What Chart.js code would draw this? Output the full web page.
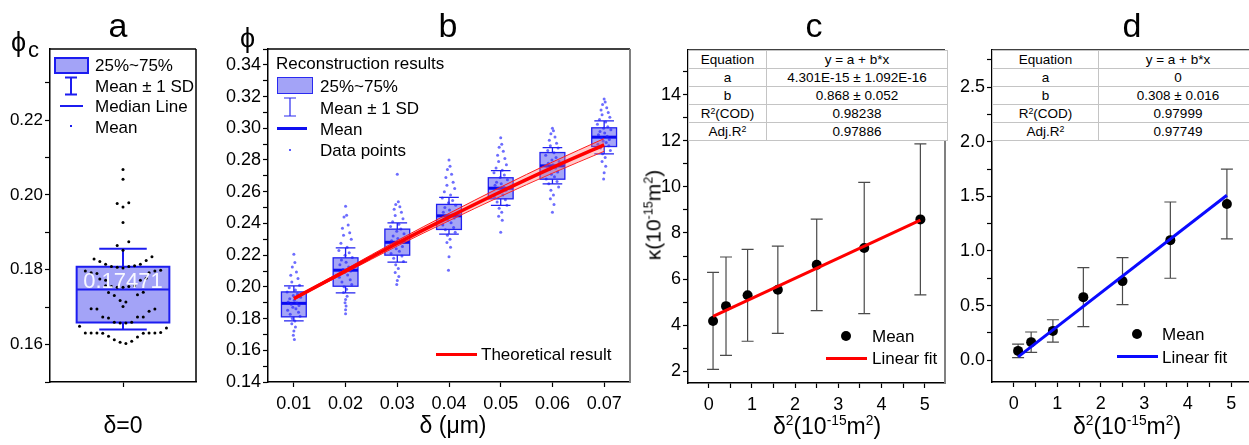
<!DOCTYPE html>
<html>
<head>
<meta charset="utf-8">
<script src="https://cdn.jsdelivr.net/npm/chart.js@4.4.1/dist/chart.umd.min.js"></script>
<style>
  body { margin: 0; background: #fff; }
  #fig { position: relative; width: 1249px; height: 445px; overflow: hidden; font-family: "Liberation Sans", Arial, sans-serif; color: #000; }
  #fig canvas { position: absolute; top: 0; }
  .lab { position: absolute; white-space: nowrap; line-height: 1; }
  .c { transform: translate(-50%, -50%); }
  .l { transform: translate(0, -50%); }
  .letter { font-size: 34px; }
  .ttl { font-size: 23px; }
  .leg { font-size: 17px; }
  .lab sup { font-size: 0.6em; vertical-align: 0.6em; line-height: 0; }
  .fit { position: absolute; border-collapse: collapse; background: #fff; font-size: 13.5px; border: 1.5px solid #333; table-layout: fixed; }
  .fit td { border: 1px solid #c4c4c4; height: 17px; padding: 0; text-align: center; line-height: 17px; white-space: nowrap; }
  .fit sup { font-size: 0.65em; vertical-align: 0.5em; line-height: 0; }
  .sw { position: absolute; box-sizing: border-box; }
</style>
</head>
<body>
<div id="fig">
  <canvas id="chartA" width="200" height="445" style="left:0px"></canvas>
  <canvas id="chartB" width="450" height="445" style="left:200px"></canvas>
  <canvas id="chartC" width="300" height="445" style="left:650px"></canvas>
  <canvas id="chartD" width="310" height="445" style="left:950px"></canvas>

  <!-- 패널 글자 -->
  <div class="lab letter c" style="left:118px; top:25px">a</div>
  <div class="lab letter c" style="left:448px; top:25px">b</div>
  <div class="lab letter c" style="left:814px; top:25px">c</div>
  <div class="lab letter c" style="left:1132px; top:25px">d</div>

  <!-- 축 제목 -->
  <div class="lab l" style="left:11px; top:42px; font-size:27px">ϕ</div>
  <div class="lab l" style="left:28px; top:50px; font-size:22px">c</div>
  <div class="lab l" style="left:240px; top:38px; font-size:27px">ϕ</div>
  <div class="lab ttl c" style="left:123px; top:425px">δ=0</div>
  <div class="lab ttl c" style="left:453px; top:425px">δ (μm)</div>
  <div class="lab ttl c" style="left:827px; top:426px">δ<sup>2</sup>(10<sup>-15</sup>m<sup>2</sup>)</div>
  <div class="lab ttl c" style="left:1127px; top:426px">δ<sup>2</sup>(10<sup>-15</sup>m<sup>2</sup>)</div>
  <div class="lab c" style="left:653px; top:215px; font-size:21px; transform:translate(-50%,-50%) rotate(-90deg)">κ(10<sup>-15</sup>m<sup>2</sup>)</div>

  <!-- 패널 a 범례 -->
  <div class="sw" style="left:54px; top:57px; width:35px; height:17px; background:#a3a3f7; border:2px solid #1c1cf0"></div>
  <div class="lab leg l" style="left:95px; top:65px">25%~75%</div>
  <svg class="sw" style="left:64px; top:76px" width="14" height="20"><path d="M1 1.5H13M7 1.5V18.5M1 18.5H13" stroke="#1c1cf0" stroke-width="2" fill="none"/></svg>
  <div class="lab leg l" style="left:95px; top:86px">Mean ± 1 SD</div>
  <div class="sw" style="left:60px; top:105px; width:23px; height:2px; background:#1c1cf0"></div>
  <div class="lab leg l" style="left:95px; top:106px">Median Line</div>
  <div class="sw" style="left:70px; top:125px; width:2px; height:2px; background:#1c1cf0"></div>
  <div class="lab leg l" style="left:95px; top:127px">Mean</div>

  <!-- 패널 b 범례 -->
  <div class="lab leg l" style="left:276px; top:63px">Reconstruction results</div>
  <div class="sw" style="left:277px; top:77px; width:36px; height:17px; background:#a3a3f7; border:1.5px solid #2a2af0"></div>
  <div class="lab leg l" style="left:320px; top:86px">25%~75%</div>
  <svg class="sw" style="left:283px; top:97px" width="14" height="20"><path d="M1 1H13M7 1V19M1 19H13" stroke="#2a2af0" stroke-width="1.2" fill="none"/></svg>
  <div class="lab leg l" style="left:320px; top:108px">Mean ± 1 SD</div>
  <div class="sw" style="left:277px; top:127px; width:30px; height:3px; background:#1010f0"></div>
  <div class="lab leg l" style="left:320px; top:129px">Mean</div>
  <div class="sw" style="left:289px; top:149px; width:2px; height:2px; background:#5a5aff"></div>
  <div class="lab leg l" style="left:320px; top:150px">Data points</div>
  <div class="sw" style="left:436px; top:353px; width:41px; height:3px; background:#ff0000"></div>
  <div class="lab leg l" style="left:481px; top:354px">Theoretical result</div>

  <!-- 패널 c 범례 -->
  <div class="sw" style="left:841px; top:331px; width:10px; height:10px; border-radius:50%; background:#000"></div>
  <div class="lab leg l" style="left:872px; top:336px">Mean</div>
  <div class="sw" style="left:826px; top:357px; width:41px; height:3px; background:#ff0000"></div>
  <div class="lab leg l" style="left:872px; top:358px">Linear fit</div>

  <!-- 패널 d 범례 -->
  <div class="sw" style="left:1132px; top:329px; width:10px; height:10px; border-radius:50%; background:#000"></div>
  <div class="lab leg l" style="left:1162px; top:334px">Mean</div>
  <div class="sw" style="left:1117px; top:355px; width:41px; height:3px; background:#0a0aff"></div>
  <div class="lab leg l" style="left:1162px; top:357px">Linear fit</div>

  <!-- 피팅 결과 표 -->
  <table class="fit" style="left:688px; top:50px; width:260px">
    <tr><td style="width:77px">Equation</td><td>y = a + b*x</td></tr>
    <tr><td>a</td><td>4.301E-15 ± 1.092E-16</td></tr>
    <tr><td>b</td><td>0.868 ± 0.052</td></tr>
    <tr><td>R<sup>2</sup>(COD)</td><td>0.98238</td></tr>
    <tr><td>Adj.R<sup>2</sup></td><td>0.97886</td></tr>
  </table>
  <table class="fit" style="left:992px; top:50px; width:266px">
    <tr><td style="width:105px">Equation</td><td>y = a + b*x</td></tr>
    <tr><td>a</td><td>0</td></tr>
    <tr><td>b</td><td>0.308 ± 0.016</td></tr>
    <tr><td>R<sup>2</sup>(COD)</td><td>0.97999</td></tr>
    <tr><td>Adj.R<sup>2</sup></td><td>0.97749</td></tr>
  </table>
</div>

<script>
// ---- 패널 a 데이터 (δ=0) ----
const aQ1 = 0.1659, aQ3 = 0.1808, aMedian = 0.17471, aSdLow = 0.1640, aSdHigh = 0.1856;
const aDotCol = [0, 0, -1, 1, 0, 0, 1, -1, 0,
  -5, -4, -3, -2, -1, 0, 1, 2, 3, 4, 5,
  -6.5, -5.5, -4.5, 4.5, 5.5, 6.5,
  -4, -3, 3, 4,
  -3, -2, -1, 0, 1, 2,
  -2.5, -1.5, 2.5, 3.5,
  -0.5, 0.5, 0,
  -5.5, -4.5, 4.5, 5.5,
  -3.5, -2.5, 2.5, 3.5,
  -1.5, -0.5, 0.5, 1.5,
  -7.5, 7.5,
  -6.5, -5.5, -4.5, -3.5, 3.5, 4.5, 5.5, 6.5,
  -2.5, 2.5,
  -1.5, -0.5, 0.5, 1.5];
const aDotVal = [0.2068, 0.2042, 0.1977, 0.1979, 0.1968, 0.1926, 0.1875, 0.1865, 0.1852,
  0.1829, 0.1822, 0.1815, 0.1809, 0.1807, 0.1805, 0.1809, 0.1811, 0.1815, 0.1825, 0.1835,
  0.1797, 0.1792, 0.1790, 0.1792, 0.1797, 0.1799,
  0.1775, 0.1772, 0.1772, 0.1777,
  0.1757, 0.1755, 0.1753, 0.1753, 0.1755, 0.1757,
  0.1739, 0.1731, 0.1733, 0.1740,
  0.1718, 0.1714, 0.1702,
  0.1696, 0.1695, 0.1689, 0.1695,
  0.1674, 0.1671, 0.1674, 0.1674,
  0.1660, 0.1658, 0.1658, 0.1660,
  0.1649, 0.1644,
  0.1631, 0.1631, 0.1631, 0.1630, 0.1630, 0.1631, 0.1631, 0.1632,
  0.1622, 0.1620,
  0.1613, 0.1606, 0.1603, 0.1609];
const aYTicks = [0.15, 0.16, 0.17, 0.18, 0.19, 0.20, 0.21, 0.22, 0.23];
const aYLabels = ['', '0.16', '', '0.18', '', '0.20', '', '0.22', ''];
const aXTicks = [0];
const aXLabels = [''];

// ---- 패널 b 데이터 ----
const bX = [0.01, 0.02, 0.03, 0.04, 0.05, 0.06, 0.07];
const bQ1 = [0.1811, 0.2004, 0.2200, 0.2362, 0.2555, 0.2679, 0.2885];
const bQ3 = [0.1968, 0.2183, 0.2364, 0.2520, 0.2688, 0.2847, 0.3003];
const bMean = [0.1896, 0.2105, 0.2281, 0.2448, 0.2622, 0.2763, 0.2944];
const bSdLow = [0.1785, 0.1962, 0.2156, 0.2332, 0.2514, 0.2650, 0.2838];
const bSdHigh = [0.2006, 0.2246, 0.2404, 0.2564, 0.2733, 0.2878, 0.3047];
const bTheory = [0.1926, 0.2100, 0.2275, 0.2440, 0.2600, 0.2752, 0.2895];
const bTheoryHigh = [0.1931, 0.2111, 0.2292, 0.2463, 0.2629, 0.2787, 0.2935];
const bTheoryLow = [0.1921, 0.2089, 0.2258, 0.2417, 0.2571, 0.2717, 0.2855];
const bPts1 = [0.2206, 0.2153, 0.2126, 0.2094, 0.2073, 0.2052, 0.2031, 0.2010, 0.1995, 0.1980, 0.1968, 0.1955, 0.1945, 0.1935, 0.1925, 0.1915, 0.1905, 0.1898, 0.1890, 0.1882, 0.1872, 0.1862, 0.1852, 0.1840, 0.1828, 0.1815, 0.1800, 0.1785, 0.1768, 0.1747, 0.1722, 0.1695, 0.1668];
const bPts2 = [0.2508, 0.2452, 0.2440, 0.2390, 0.2370, 0.2342, 0.2325, 0.2300, 0.2275, 0.2250, 0.2230, 0.2215, 0.2200, 0.2185, 0.2170, 0.2155, 0.2140, 0.2125, 0.2110, 0.2100, 0.2090, 0.2075, 0.2060, 0.2045, 0.2030, 0.2015, 0.2000, 0.1985, 0.1965, 0.1940, 0.1920, 0.1900, 0.1880, 0.1855, 0.1830];
const bPts3 = [0.2710, 0.2537, 0.2520, 0.2505, 0.2490, 0.2470, 0.2450, 0.2430, 0.2410, 0.2395, 0.2380, 0.2365, 0.2350, 0.2335, 0.2320, 0.2305, 0.2290, 0.2280, 0.2270, 0.2255, 0.2240, 0.2225, 0.2210, 0.2195, 0.2180, 0.2160, 0.2140, 0.2115, 0.2090, 0.2065, 0.2040, 0.2015];
const bPts4 = [0.2800, 0.2760, 0.2740, 0.2710, 0.2690, 0.2660, 0.2640, 0.2620, 0.2600, 0.2580, 0.2560, 0.2545, 0.2530, 0.2515, 0.2500, 0.2485, 0.2470, 0.2455, 0.2445, 0.2435, 0.2420, 0.2405, 0.2390, 0.2375, 0.2360, 0.2345, 0.2325, 0.2300, 0.2280, 0.2250, 0.2190, 0.2105];
const bPts5 = [0.2940, 0.2900, 0.2880, 0.2855, 0.2830, 0.2810, 0.2790, 0.2770, 0.2750, 0.2735, 0.2720, 0.2705, 0.2690, 0.2675, 0.2660, 0.2650, 0.2640, 0.2630, 0.2620, 0.2610, 0.2595, 0.2580, 0.2565, 0.2550, 0.2535, 0.2515, 0.2495, 0.2470, 0.2445, 0.2420, 0.2345];
const bPts6 = [0.3000, 0.2985, 0.2965, 0.2945, 0.2925, 0.2905, 0.2890, 0.2875, 0.2860, 0.2845, 0.2830, 0.2815, 0.2800, 0.2790, 0.2780, 0.2770, 0.2760, 0.2750, 0.2740, 0.2725, 0.2710, 0.2695, 0.2680, 0.2665, 0.2650, 0.2630, 0.2610, 0.2580, 0.2555, 0.2520, 0.2470];
const bPts7 = [0.3185, 0.3165, 0.3150, 0.3130, 0.3115, 0.3100, 0.3085, 0.3070, 0.3055, 0.3040, 0.3025, 0.3010, 0.3000, 0.2990, 0.2980, 0.2970, 0.2960, 0.2950, 0.2940, 0.2930, 0.2920, 0.2910, 0.2900, 0.2890, 0.2875, 0.2860, 0.2840, 0.2815, 0.2790, 0.2760, 0.2720, 0.2680];
// 점 가로 흩어짐 (μm)
const bJitter = [0, 0.0002, -0.0003, 0.0005, -0.0006, 0.0008, -0.0004, 0.0011, -0.0009, 0.0003, -0.0013, 0.0007, -0.0001, 0.0013, -0.0008, 0.0001, -0.0011, 0.0006, -0.0005, 0.0010, -0.0002, 0.0004, -0.0012, 0.0009, -0.0007, 0.0012, -0.0003, 0.0002, -0.0004, 0.0003, 0, -0.0001, 0.0001, 0, 0];
const bYTicks = [0.14, 0.15, 0.16, 0.17, 0.18, 0.19, 0.20, 0.21, 0.22, 0.23, 0.24, 0.25, 0.26, 0.27, 0.28, 0.29, 0.30, 0.31, 0.32, 0.33, 0.34, 0.35];
const bYLabels = ['0.14', '', '0.16', '', '0.18', '', '0.20', '', '0.22', '', '0.24', '', '0.26', '', '0.28', '', '0.30', '', '0.32', '', '0.34', ''];
const bXTicks = [0.01, 0.02, 0.03, 0.04, 0.05, 0.06, 0.07];
const bXLabels = ['0.01', '0.02', '0.03', '0.04', '0.05', '0.06', '0.07'];

// ---- 패널 c 데이터 ----
const cX = [0.1, 0.4, 0.9, 1.6, 2.5, 3.6, 4.9];
const cMean = [4.19, 4.83, 5.30, 5.54, 6.62, 7.35, 8.59];
const cSd = [2.10, 2.13, 1.99, 1.89, 1.98, 2.84, 3.27];
const cFitX = [0.1, 4.9];
const cFitY = [4.39, 8.56];
const cYTicks = [2, 3, 4, 5, 6, 7, 8, 9, 10, 11, 12, 13, 14, 15];
const cYLabels = ['2', '', '4', '', '6', '', '8', '', '10', '', '12', '', '14', ''];
const cXTicks = [0, 0.5, 1, 1.5, 2, 2.5, 3, 3.5, 4, 4.5, 5];
const cXLabels = ['0', '', '1', '', '2', '', '3', '', '4', '', '5'];

// ---- 패널 d 데이터 ----
const dX = [0.1, 0.4, 0.9, 1.6, 2.5, 3.6, 4.9];
const dMean = [0.085, 0.165, 0.268, 0.577, 0.724, 1.099, 1.430];
const dSd = [0.062, 0.093, 0.102, 0.270, 0.215, 0.349, 0.320];
const dFitX = [0.1, 4.9];
const dFitY = [0.03, 1.51];
const dYTicks = [0, 0.25, 0.5, 0.75, 1, 1.25, 1.5, 1.75, 2, 2.25, 2.5, 2.75];
const dYLabels = ['0.0', '', '0.5', '', '1.0', '', '1.5', '', '2.0', '', '2.5', ''];
const dXTicks = cXTicks;
const dXLabels = cXLabels;

Chart.defaults.font.family = '"Liberation Sans", Arial, sans-serif';
Chart.defaults.color = '#000';
Chart.defaults.animation = false;
Chart.defaults.plugins.legend.display = false;
Chart.defaults.plugins.tooltip.enabled = false;

// 축 설정 (눈금 위치 고정, 축 크기 고정)
function makeAxis(min, max, ticks, labels, fontSize, fit, pad) {
    return {
        type: 'linear', min: min, max: max,
        afterBuildTicks: function (s) { s.ticks = ticks.map(v => ({ value: v })); },
        afterFit: fit,
        ticks: {
            autoSkip: false, maxRotation: 0, padding: pad, color: '#000',
            font: { size: fontSize },
            callback: (v, i) => labels[i]
        },
        grid: { drawOnChartArea: false, tickLength: 5, color: '#000', tickWidth: 1.2 },
        border: { color: '#000', width: 1.5 }
    };
}

// 위/오른쪽 테두리
function framePlugin(rightColor) {
    return {
        id: 'frame',
        afterDraw(chart) {
            const { ctx, chartArea: a } = chart;
            ctx.save();
            ctx.lineWidth = 1.5;
            ctx.strokeStyle = '#000';
            ctx.beginPath(); ctx.moveTo(a.left, a.top); ctx.lineTo(a.right, a.top); ctx.stroke();
            ctx.strokeStyle = rightColor;
            ctx.lineWidth = rightColor === '#000' ? 1.5 : 2;
            ctx.beginPath(); ctx.moveTo(a.right, a.top); ctx.lineTo(a.right, a.bottom); ctx.stroke();
            ctx.restore();
        }
    };
}

// 에러바 (c, d)
function errorBarPlugin(xs, means, sds) {
    return {
        id: 'errbars',
        beforeDatasetsDraw(chart) {
            const { ctx, scales: { x, y } } = chart;
            ctx.save();
            ctx.strokeStyle = '#4a4a4a';
            ctx.lineWidth = 1.2;
            for (let i = 0; i < xs.length; i++) {
                const px = x.getPixelForValue(xs[i]);
                const top = y.getPixelForValue(means[i] + sds[i]);
                const bot = y.getPixelForValue(means[i] - sds[i]);
                ctx.beginPath();
                ctx.moveTo(px, top); ctx.lineTo(px, bot);
                ctx.moveTo(px - 6, top); ctx.lineTo(px + 6, top);
                ctx.moveTo(px - 6, bot); ctx.lineTo(px + 6, bot);
                ctx.stroke();
            }
            ctx.restore();
        }
    };
}

// ---- 패널 a ----
const aBoxHalf = 8.0, aCapHalf = 4.1;
const boxPluginA = {
    id: 'boxA',
    beforeDatasetsDraw(chart) {
        const { ctx, scales: { x, y } } = chart;
        const cx = x.getPixelForValue(0);
        const l = x.getPixelForValue(-aBoxHalf), r = x.getPixelForValue(aBoxHalf);
        const t = y.getPixelForValue(aQ3), b = y.getPixelForValue(aQ1);
        const hi = y.getPixelForValue(aSdHigh), lo = y.getPixelForValue(aSdLow);
        const cl = x.getPixelForValue(-aCapHalf), cr = x.getPixelForValue(aCapHalf);
        ctx.save();
        ctx.strokeStyle = '#1c1cf0';
        ctx.lineWidth = 2;
        ctx.beginPath();
        ctx.moveTo(cx, hi); ctx.lineTo(cx, t);
        ctx.moveTo(cx, b); ctx.lineTo(cx, lo);
        ctx.moveTo(cl, hi); ctx.lineTo(cr, hi);
        ctx.moveTo(cl, lo); ctx.lineTo(cr, lo);
        ctx.stroke();
        ctx.fillStyle = '#a3a3f7';
        ctx.fillRect(l, t, r - l, b - t);
        ctx.strokeRect(l, t, r - l, b - t);
        const m = y.getPixelForValue(aMedian);
        ctx.beginPath(); ctx.moveTo(l, m); ctx.lineTo(r, m); ctx.stroke();
        ctx.restore();
    },
    afterDatasetsDraw(chart) {
        const { ctx, scales: { x, y } } = chart;
        ctx.save();
        ctx.fillStyle = 'rgba(255,255,255,0.92)';
        ctx.font = '22px "Liberation Sans", Arial, sans-serif';
        ctx.textAlign = 'center';
        ctx.textBaseline = 'alphabetic';
        ctx.fillText(aMedian.toFixed(5), x.getPixelForValue(0), y.getPixelForValue(aMedian) - 2);
        ctx.restore();
    }
};

new Chart(document.getElementById('chartA'), {
    type: 'scatter',
    data: {
        datasets: [{
            data: aDotCol.map((c, i) => ({ x: c, y: aDotVal[i] })),
            pointRadius: 1.5, backgroundColor: '#000', borderWidth: 0
        }]
    },
    options: {
        responsive: false,
        layout: { padding: { left: 0, right: 4, top: 49, bottom: 0 } },
        scales: {
            x: makeAxis(-12.6, 12.6, aXTicks, aXLabels, 17, s => { s.height = 63; }, 6),
            y: makeAxis(0.150, 0.239, aYTicks, aYLabels, 17, s => { s.width = 50; }, 2)
        }
    },
    plugins: [boxPluginA, framePlugin('#000')]
});

// ---- 패널 b ----
const bBoxHalf = 0.0024, bCapHalf = 0.0019;
const boxPluginB = {
    id: 'boxB',
    beforeDatasetsDraw(chart) {
        const { ctx, scales: { x, y } } = chart;
        ctx.save();
        for (let i = 0; i < bX.length; i++) {
            const cx = x.getPixelForValue(bX[i]);
            const l = x.getPixelForValue(bX[i] - bBoxHalf), r = x.getPixelForValue(bX[i] + bBoxHalf);
            const cl = x.getPixelForValue(bX[i] - bCapHalf), cr = x.getPixelForValue(bX[i] + bCapHalf);
            const t = y.getPixelForValue(bQ3[i]), b = y.getPixelForValue(bQ1[i]);
            const hi = y.getPixelForValue(bSdHigh[i]), lo = y.getPixelForValue(bSdLow[i]);
            ctx.strokeStyle = '#2020f0';
            ctx.lineWidth = 1.3;
            ctx.beginPath();
            ctx.moveTo(cx, hi); ctx.lineTo(cx, lo);
            ctx.moveTo(cl, hi); ctx.lineTo(cr, hi);
            ctx.moveTo(cl, lo); ctx.lineTo(cr, lo);
            ctx.stroke();
            ctx.fillStyle = '#a5a5f6';
            ctx.fillRect(l, t, r - l, b - t);
            ctx.strokeRect(l, t, r - l, b - t);
            const m = y.getPixelForValue(bMean[i]);
            ctx.lineWidth = 3;
            ctx.strokeStyle = '#0a0af0';
            ctx.beginPath(); ctx.moveTo(l, m); ctx.lineTo(r, m); ctx.stroke();
        }
        ctx.restore();
    }
};

const bGroups = [bPts1, bPts2, bPts3, bPts4, bPts5, bPts6, bPts7];
const bPoints = [];
bGroups.forEach((g, gi) => {
    g.forEach((v, i) => bPoints.push({ x: bX[gi] + bJitter[i], y: v }));
});

new Chart(document.getElementById('chartB'), {
    type: 'scatter',
    data: {
        datasets: [
            {
                data: bX.map((v, i) => ({ x: v, y: bTheory[i] })),
                showLine: true, borderColor: '#ff0000', borderWidth: 3.5, pointRadius: 0,
                cubicInterpolationMode: 'monotone'
            },
            {
                data: bX.map((v, i) => ({ x: v, y: bTheoryHigh[i] })),
                showLine: true, borderColor: '#ff1a1a', borderWidth: 1, pointRadius: 0,
                cubicInterpolationMode: 'monotone',
                fill: '+1', backgroundColor: 'rgba(255,110,110,0.35)'
            },
            {
                data: bX.map((v, i) => ({ x: v, y: bTheoryLow[i] })),
                showLine: true, borderColor: '#ff1a1a', borderWidth: 1, pointRadius: 0,
                cubicInterpolationMode: 'monotone'
            },
            {
                data: bPoints,
                pointRadius: 1.5, backgroundColor: 'rgba(30,30,255,0.65)', borderWidth: 0
            }
        ]
    },
    options: {
        responsive: false,
        layout: { padding: { left: 0, right: 20, top: 49, bottom: 0 } },
        scales: {
            x: makeAxis(0.005, 0.075, bXTicks, bXLabels, 18, s => { s.height = 63; }, 6),
            y: makeAxis(0.14, 0.35, bYTicks, bYLabels, 18, s => { s.width = 68; }, 2)
        }
    },
    plugins: [boxPluginB, framePlugin('#808080')]
});

// ---- 패널 c ----
new Chart(document.getElementById('chartC'), {
    type: 'scatter',
    data: {
        datasets: [
            {
                data: cFitX.map((v, i) => ({ x: v, y: cFitY[i] })),
                showLine: true, borderColor: '#ff0000', borderWidth: 3, pointRadius: 0
            },
            {
                data: cX.map((v, i) => ({ x: v, y: cMean[i] })),
                pointRadius: 5, backgroundColor: '#000', borderWidth: 0
            }
        ]
    },
    options: {
        responsive: false,
        layout: { padding: { left: 0, right: 2, top: 50, bottom: 0 } },
        scales: {
            x: makeAxis(-0.48, 5.47, cXTicks, cXLabels, 18, s => { s.height = 62; }, 6),
            y: makeAxis(1.5, 15.93, cYTicks, cYLabels, 18, s => { s.width = 38; }, 2)
        }
    },
    plugins: [errorBarPlugin(cX, cMean, cSd), framePlugin('#808080')]
});

// ---- 패널 d ----
new Chart(document.getElementById('chartD'), {
    type: 'scatter',
    data: {
        datasets: [
            {
                data: dFitX.map((v, i) => ({ x: v, y: dFitY[i] })),
                showLine: true, borderColor: '#0a0aff', borderWidth: 3, pointRadius: 0
            },
            {
                data: dX.map((v, i) => ({ x: v, y: dMean[i] })),
                pointRadius: 5, backgroundColor: '#000', borderWidth: 0
            }
        ]
    },
    options: {
        responsive: false,
        layout: { padding: { left: 0, right: 7, top: 50, bottom: 0 } },
        scales: {
            x: makeAxis(-0.5, 5.5, dXTicks, dXLabels, 18, s => { s.height = 63; }, 6),
            y: makeAxis(-0.2, 2.84, dYTicks, dYLabels, 18, s => { s.width = 42; }, 2)
        }
    },
    plugins: [errorBarPlugin(dX, dMean, dSd), framePlugin('#000')]
});
</script>
</body>
</html>
